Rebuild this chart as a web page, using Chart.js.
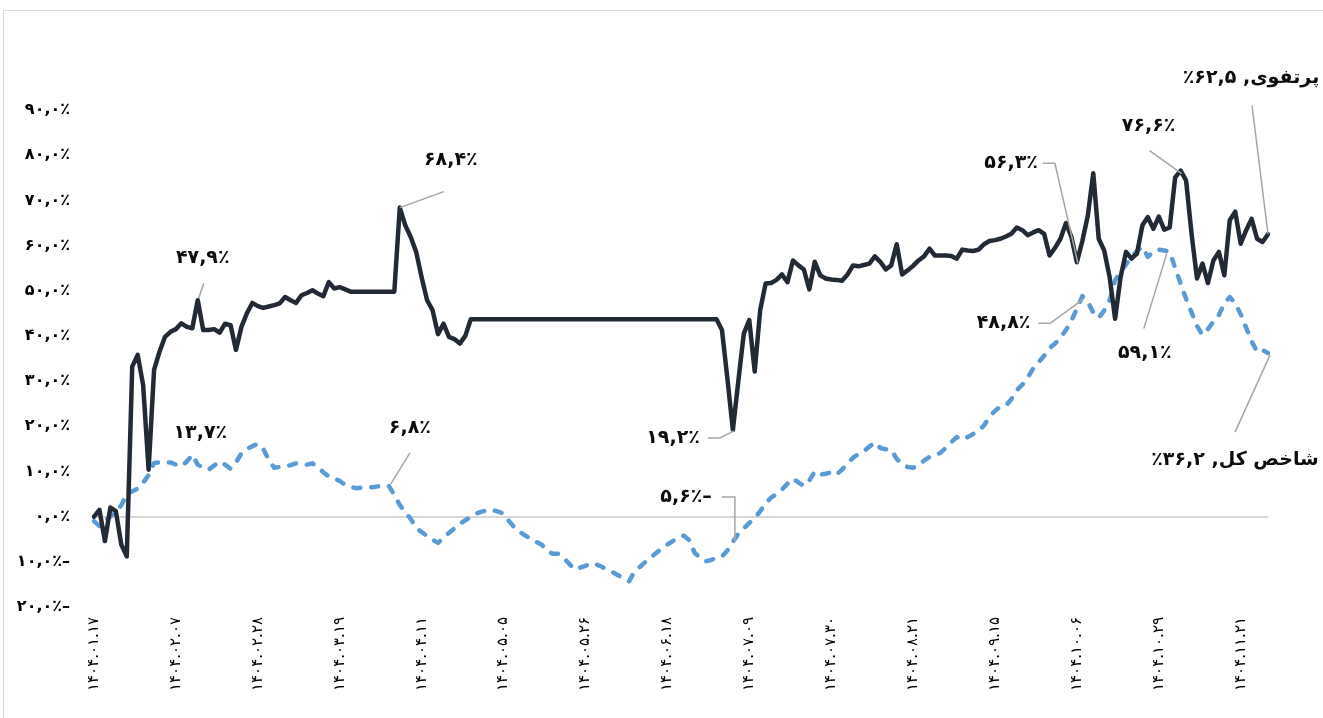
<!DOCTYPE html>
<html>
<head>
<meta charset="utf-8">
<script src="https://cdn.jsdelivr.net/npm/chart.js@4.4.1/dist/chart.umd.min.js"></script>
<style>
  html, body { margin: 0; padding: 0; background: #fff; overflow: hidden; }
  #frame { position: absolute; left: 3px; top: 10px; width: 1330px; height: 800px; border: 1px solid #d9d9d9; }
</style>
</head>
<body>
<div id="frame"><canvas id="chart"></canvas></div>
<script>
// date labels, one every 15 trading days
var tickLabels = ['۱۴۰۴.۰۱.۱۷', '۱۴۰۴.۰۲.۰۷', '۱۴۰۴.۰۲.۲۸', '۱۴۰۴.۰۳.۱۹', '۱۴۰۴.۰۴.۱۱',
  '۱۴۰۴.۰۵.۰۵', '۱۴۰۴.۰۵.۲۶', '۱۴۰۴.۰۶.۱۸', '۱۴۰۴.۰۷.۰۹', '۱۴۰۴.۰۷.۳۰',
  '۱۴۰۴.۰۸.۲۱', '۱۴۰۴.۰۹.۱۵', '۱۴۰۴.۱۰.۰۶', '۱۴۰۴.۱۰.۲۹', '۱۴۰۴.۱۱.۲۱'];
var tickEvery = 15;

var seriesNames = ['پرتفوی', 'شاخص کل'];

// cumulative return, percent
var portfolio = [
  0, 1.5, -5.4, 2.0, 1.2, -6.2, -8.8, 33.2, 35.8, 29.1,
  10.4, 32.5, 36.5, 39.8, 40.9, 41.5, 42.8, 42.0, 41.7, 47.9,
  41.3, 41.3, 41.5, 40.7, 42.7, 42.4, 36.9, 42.0, 45.0, 47.3,
  46.6, 46.2, 46.5, 46.8, 47.2, 48.6, 47.9, 47.3, 49.0, 49.5,
  50.1, 49.4, 48.8, 51.9, 50.5, 50.8, 50.3, 49.8, 49.8, 49.8,
  49.8, 49.8, 49.8, 49.8, 49.8, 49.8, 68.4, 64.5, 61.9, 58.6,
  53.0, 47.9, 45.7, 40.4, 42.7, 39.8, 39.3, 38.3, 40.0, 43.7,
  43.7, 43.7, 43.7, 43.7, 43.7, 43.7, 43.7, 43.7, 43.7, 43.7,
  43.7, 43.7, 43.7, 43.7, 43.7, 43.7, 43.7, 43.7, 43.7, 43.7,
  43.7, 43.7, 43.7, 43.7, 43.7, 43.7, 43.7, 43.7, 43.7, 43.7,
  43.7, 43.7, 43.7, 43.7, 43.7, 43.7, 43.7, 43.7, 43.7, 43.7,
  43.7, 43.7, 43.7, 43.7, 43.7, 41.3, 30.5, 19.2, 30.0, 40.5,
  43.5, 32.1, 45.7, 51.6, 51.7, 52.4, 53.6, 51.9, 56.7, 55.6,
  54.7, 50.3, 56.4, 53.4, 52.7, 52.5, 52.4, 52.2, 53.6, 55.6,
  55.4, 55.7, 56.0, 57.6, 56.4, 54.7, 55.6, 60.3, 53.6, 54.5,
  55.5, 56.7, 57.6, 59.3, 57.8, 57.8, 57.8, 57.7, 57.1, 59.1,
  58.9, 58.8, 59.1, 60.3, 61.0, 61.2, 61.5, 62.0, 62.6, 64.0,
  63.4, 62.3, 62.9, 63.4, 62.6, 57.8, 59.5, 61.5, 65.0, 61.9,
  56.3, 61.0, 66.6, 76.0, 61.5, 58.9, 53.0, 43.8, 53.0, 58.6,
  57.1, 58.2, 64.5, 66.3, 63.7, 66.4, 63.5, 64.0, 75.1, 76.6,
  74.4, 62.6, 52.7, 56.0, 51.7, 56.7, 58.6, 53.4, 65.6, 67.5,
  60.4, 63.4, 65.9, 61.5, 60.8, 62.5
];

var marketIndex = [
  -1, -2.1, -1, 0, 1.2, 2.5, 5, 5.6, 6.2, 7.5,
  9.2, 11.9, 12, 12, 12, 11.5, 11.1, 12.2, 13.7, 11.5,
  10.8, 10.4, 11.3, 12.2, 11.5, 10.6, 12, 14, 15, 15.6,
  16.1, 15, 12.6, 10.8, 11, 11.1, 11.4, 11.8, 11.7, 11.5,
  11.8, 11, 9.8, 8.9, 8.4, 7.9, 7, 6.6, 6.3, 6.4,
  6.5, 6.5, 6.7, 6.8, 6.8, 4.8, 2.6, 1, -0.5, -2.5,
  -3.4, -4.3, -5.1, -5.8, -4.7, -3.6, -2.6, -1.6, -0.8, 0,
  0.7, 1.1, 1.4, 1.5, 1.1, 0.7, -1, -2.4, -3.4, -4.2,
  -4.9, -5.6, -6.2, -7.6, -8.2, -8.2, -9.1, -10.4, -11.7, -11.3,
  -10.9, -10.3, -10.6, -11.1, -11.8, -12.3, -13, -13.6, -14.3, -12.1,
  -11.1, -10, -9, -8, -7, -6.2, -5.4, -4.7, -4.2, -5.2,
  -8, -9.1, -9.9, -9.6, -9.1, -8.8, -7.5, -5.6, -3.8, -2.6,
  -1.4, -0.3, 1.2, 3, 4.2, 5, 6, 7.3, 8.4, 7.6,
  6.8, 8, 10, 9.3, 9.5, 9.8, 9.3, 10.4, 11.8, 13,
  13.9, 14.5, 15.5, 16.4, 15.2, 14.9, 14.8, 12.8, 11.6, 11,
  10.8, 11.4, 12.4, 13.2, 13.6, 14.1, 15.2, 16.5, 17.6, 17,
  17.6, 18.3, 19, 20.2, 22.1, 23.4, 24.4, 24.6, 26, 28,
  29.2, 30.8, 32.8, 34.2, 35.6, 37.3, 38.3, 39.6, 41.3, 43.4,
  46, 48.8, 47.5, 45.2, 44, 45.6, 47.9, 52.3, 54.2, 55.8,
  57.5, 58.8, 59.7, 57.5, 58.7, 59.1, 58.9, 58.6, 55, 51.6,
  48.2, 45.2, 42.2, 40.2, 41.5, 43.2, 44.6, 47.2, 48.6, 47.2,
  44.8, 41.8, 38.8, 36.5, 36.9, 36.2
];

var faDigits = '۰۱۲۳۴۵۶۷۸۹';
function fa(s) {
  return String(s).replace(/[0-9]/g, function (d) { return faDigits[d]; });
}
function num(v) {
  return fa(Math.abs(v).toFixed(1).replace('.', ','));
}
function pct(v) {
  var s = num(v) + '٪';
  return v < 0 ? s + '–' : s;
}

var days = portfolio.map(function (v, i) { return i; });

// callouts: which point, leader path and text position relative to the point
var notes = [
  { ds: 0, i: 19, line: [[1, -2], [6, -17]], tx: 5, ty: -42, align: 'center' },
  { ds: 1, i: 18, line: null, tx: 8, ty: -22, align: 'center' },
  { ds: 0, i: 56, line: [[0, 0], [44, -16]], tx: 51, ty: -48, align: 'center' },
  { ds: 1, i: 54, line: [[2, -2], [21, -33]], tx: 21, ty: -58, align: 'center' },
  { ds: 0, i: 117, line: [[1, 1], [-13, 8], [-25, 8]], tx: -33, ty: 8, align: 'right' },
  { ds: 1, i: 117, line: [[2, 0], [2, -45], [-11, -45]], tx: -21, ty: -45, align: 'right' },
  { ds: 0, i: 180, line: [[1, 1], [-22, -99], [-34, -99]], tx: -39, ty: -99, align: 'right' },
  { ds: 1, i: 181, line: [[1, 3], [-32, 27], [-44, 27]], tx: -52, ty: 27, align: 'right' },
  { ds: 0, i: 199, line: [[1, 3], [-31, -20]], tx: -32, ty: -44, align: 'center' },
  { ds: 1, i: 195, line: [[8, 4], [-15, 79]], tx: -14, ty: 103, align: 'center' },
  { ds: 0, i: 215, line: [[0, 0], [-16, -129]], tx: -17, ty: -156, align: 'center', name: true },
  { ds: 1, i: 215, line: [[2, 2], [-33, 79]], tx: -33, ty: 107, align: 'center', name: true }
];

var calloutPlugin = {
  id: 'callouts',
  afterDatasetsDraw: function (chart) {
    var ctx = chart.ctx;
    ctx.save();
    ctx.font = 'bold 19px "DejaVu Sans"';
    ctx.textBaseline = 'middle';
    ctx.fillStyle = '#0d0d0d';
    ctx.strokeStyle = '#a6a6a6';
    ctx.lineWidth = 1.5;
    notes.forEach(function (n) {
      var pt = chart.getDatasetMeta(n.ds).data[n.i];
      var val = chart.data.datasets[n.ds].data[n.i];
      if (n.line) {
        ctx.beginPath();
        n.line.forEach(function (p, k) {
          if (k === 0) ctx.moveTo(pt.x + p[0], pt.y + p[1]);
          else ctx.lineTo(pt.x + p[0], pt.y + p[1]);
        });
        ctx.stroke();
      }
      var x = pt.x + n.tx, y = pt.y + n.ty;
      if (n.name) {
        // right-to-left label: name on the right, value on the left
        var a = '٪' + num(val) + ' ,';
        var b = seriesNames[n.ds];
        var wa = ctx.measureText(a).width, wb = ctx.measureText(b).width;
        var x0 = x - (wa + wb) / 2;
        ctx.textAlign = 'left';
        ctx.fillText(a, x0, y);
        ctx.fillText(b, x0 + wa, y);
      } else {
        ctx.textAlign = n.align;
        ctx.fillText(pct(val), x, y);
      }
    });
    ctx.restore();
  }
};

new Chart(document.getElementById('chart').getContext('2d'), {
  type: 'line',
  data: {
    labels: days,
    datasets: [
      {
        label: seriesNames[0],
        data: portfolio,
        borderColor: '#222a35',
        borderWidth: 4.5,
        borderJoinStyle: 'round',
        borderCapStyle: 'round',
        pointRadius: 0,
        tension: 0
      },
      {
        label: seriesNames[1],
        data: marketIndex,
        borderColor: '#5b9bd5',
        borderWidth: 4.5,
        borderDash: [7, 11],
        borderCapStyle: 'round',
        borderJoinStyle: 'round',
        pointRadius: 0,
        tension: 0
      }
    ]
  },
  options: {
    responsive: true,
    maintainAspectRatio: false,
    animation: false,
    layout: { padding: { left: 0, top: 99, right: 66, bottom: 54 } },
    plugins: {
      legend: { display: false },
      tooltip: { enabled: false }
    },
    scales: {
      x: {
        type: 'category',
        offset: false,
        grid: { display: false, drawTicks: false },
        border: { display: false },
        afterFit: function (scale) { scale.height = 150; },
        ticks: {
          autoSkip: false,
          minRotation: 90,
          maxRotation: 90,
          padding: 10,
          color: '#000',
          font: { family: 'DejaVu Sans', size: 15 },
          callback: function (v, i) {
            return i % tickEvery === 0 ? tickLabels[i / tickEvery] : '';
          }
        }
      },
      y: {
        min: -20,
        max: 90,
        afterFit: function (scale) { scale.width = 90; },
        border: { display: false },
        grid: {
          drawTicks: false,
          lineWidth: 2,
          color: function (c) { return c.tick && c.tick.value === 0 ? '#d9d9d9' : 'rgba(0,0,0,0)'; }
        },
        ticks: {
          stepSize: 10,
          padding: 24,
          color: '#000',
          font: { family: 'DejaVu Sans', size: 16, weight: 'bold' },
          callback: function (v) { return pct(v); }
        }
      }
    }
  },
  plugins: [calloutPlugin]
});
</script>
</body>
</html>
